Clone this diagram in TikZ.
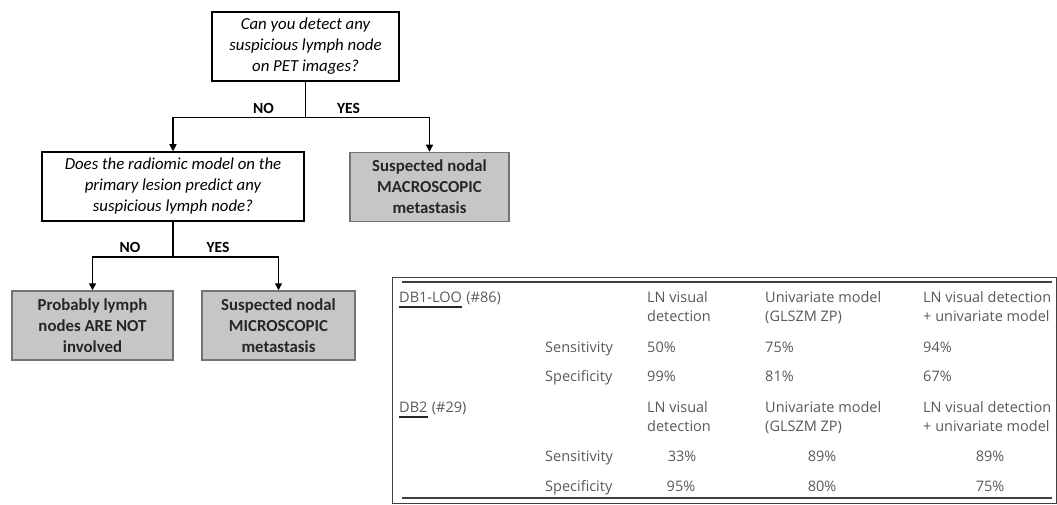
\documentclass[tikz,border=0pt]{standalone}
\usepackage{fontspec}
\setmainfont{Carlito}
\newfontfamily\tabfont{Open Sans}
\usepackage{tikz}
\usetikzlibrary{positioning,arrows.meta}

\begin{document}
\begin{tikzpicture}[
  x=1pt, y=-1pt,
  qbox/.style={draw, line width=1.5pt, minimum width=#1, minimum height=69pt, align=center, font=\fontsize{16.8}{21}\selectfont\itshape, inner sep=2pt},
  abox/.style={draw=gray!90!black, line width=1.5pt, fill=gray!45, minimum width=#1, minimum height=69pt, align=center, font=\fontsize{16.8}{21}\selectfont\bfseries, text=black!85, inner sep=2pt},
  lnk/.style={line width=1.5pt},
  arr/.style={lnk, -{Triangle[length=7pt, width=7pt]}},
  ans/.style={font=\fontsize{15.5}{18}\selectfont\bfseries, anchor=base, inner sep=0pt},
  cell/.style={anchor=base west, inner sep=0pt, font=\tabfont\fontsize{14.5}{19}\selectfont, text=black!65, align=left},
  num/.style={cell, anchor=base},
  frm/.style={draw=black!75, line width=1pt},
  rul/.style={draw=black!75, line width=1.8pt},
  uln/.style={draw=black!85, line width=1.8pt}
]
\useasboundingbox (0,0) rectangle (1057,505);

% ── Flowchart: first question ────────────────────────────────
\node[qbox=187pt] (q1) at (305.5,46.5) {Can you detect any\\suspicious lymph node\\on PET images?};
\node[qbox=262pt] (q2) at (173,186.5) {Does the radiomic model on the\\primary lesion predict any\\suspicious lymph node?};
\node[abox=159pt] (macro) at (429.5,187) {Suspected nodal\\MACROSCOPIC\\metastasis};

\coordinate[yshift=-36pt] (s1) at (q1.south);
\draw[lnk] (q1.south) -- (s1);
\draw[arr] (s1) -| (q2.north);
\draw[arr] (s1) -| (macro.north);
\node[ans] (no1)  at ([xshift=-42pt, yshift=4pt]s1) {NO};
\node[ans] (yes1) at ([xshift=43pt, yshift=4pt]s1)  {YES};

% ── Flowchart: second question ───────────────────────────────
\node[abox=161pt] (notinv) at (92.5,325.5) {Probably lymph\\nodes ARE NOT\\involved};
\node[abox=153pt] (micro)  at (278.5,325.5) {Suspected nodal\\MICROSCOPIC\\metastasis};

\coordinate[yshift=-35pt] (s2) at (q2.south);
\draw[lnk] (q2.south) -- (s2);
\draw[arr] (s2) -| (notinv.north);
\draw[arr] (s2) -| (micro.north);
\node[ans] (no2)  at ([xshift=-43pt, yshift=4pt]s2) {NO};
\node[ans] (yes2) at ([xshift=45pt, yshift=4pt]s2)  {YES};

% ── Table frame and rules ────────────────────────────────────
\draw[frm] (392,277) rectangle (1056,503);
\draw[rul] (402,282) -- (1052,282);
\draw[rul] (402,498) -- (1052,498);

% ── Table: DB1-LOO ───────────────────────────────────────────
\node[cell] (db1)  at (399,302) {DB1-LOO};
\node[cell, right=4pt of db1.base east, anchor=base west] (db1n) {(\#86)};
\draw[uln] ([yshift=-5pt]db1.base west) -- ([yshift=-5pt]db1.base east);
\node[cell] (h1a) at (647,321) {LN visual\\detection};
\node[cell] (h1b) at (765,321) {Univariate model\\(GLSZM ZP)};
\node[cell] (h1c) at (923,321) {LN visual detection\\+ univariate model};

\node[cell] (sen1) at (545,352) {Sensitivity};
\node[cell] (sen1a) at (647,352) {50\%};
\node[cell] (sen1b) at (765,352) {75\%};
\node[cell] (sen1c) at (923,352) {94\%};
\node[cell] (spe1) at (545,381) {Specificity};
\node[cell] (spe1a) at (647,381) {99\%};
\node[cell] (spe1b) at (765,381) {81\%};
\node[cell] (spe1c) at (923,381) {67\%};

% ── Table: DB2 ───────────────────────────────────────────────
\node[cell] (db2)  at (399,412) {DB2};
\node[cell, right=4pt of db2.base east, anchor=base west] (db2n) {(\#29)};
\draw[uln] ([yshift=-5pt]db2.base west) -- ([yshift=-5pt]db2.base east);
\node[cell] (h2a) at (647,431) {LN visual\\detection};
\node[cell] (h2b) at (765,431) {Univariate model\\(GLSZM ZP)};
\node[cell] (h2c) at (923,431) {LN visual detection\\+ univariate model};

\node[cell] (sen2) at (545,461) {Sensitivity};
\node[num] (sen2a) at (682,461) {33\%};
\node[num] (sen2b) at (822,461) {89\%};
\node[num] (sen2c) at (990,461) {89\%};
\node[cell] (spe2) at (545,491) {Specificity};
\node[num] (spe2a) at (681,491) {95\%};
\node[num] (spe2b) at (822,491) {80\%};
\node[num] (spe2c) at (990,491) {75\%};

\end{tikzpicture}
\end{document}
